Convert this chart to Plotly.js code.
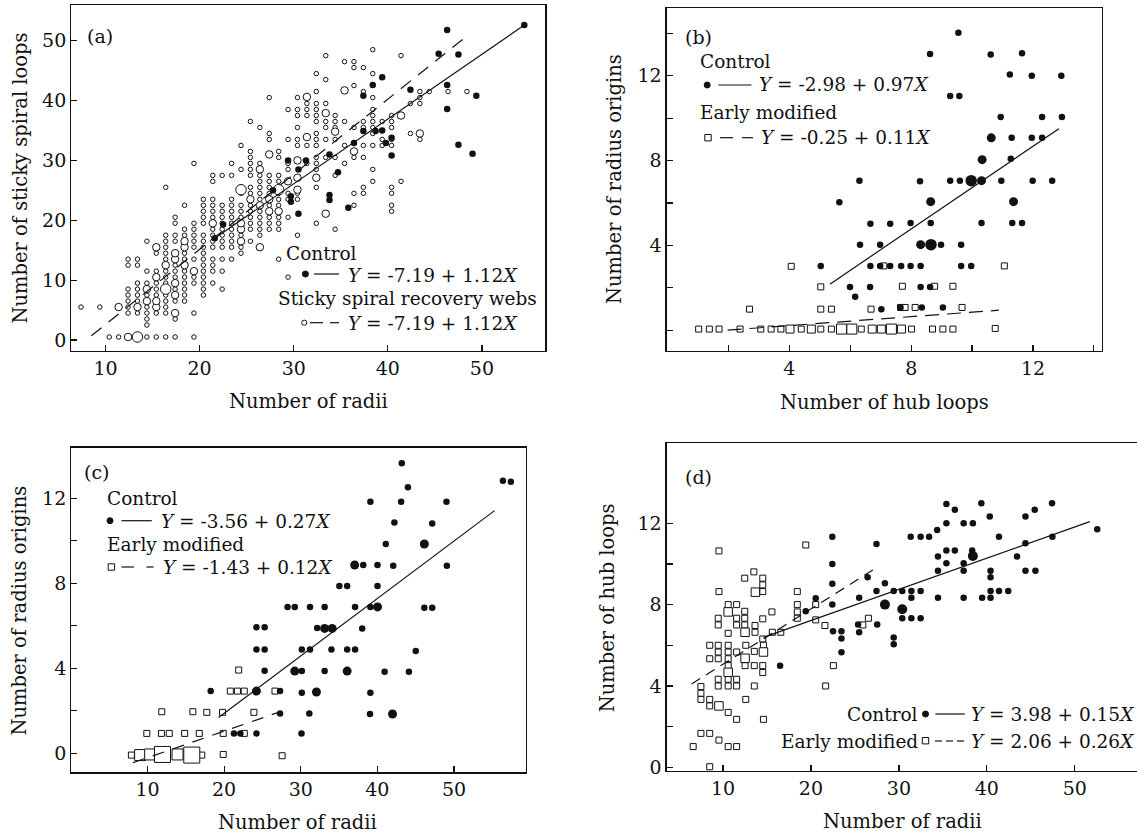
<!DOCTYPE html>
<html>
<head>
<meta charset="utf-8">
<script src="https://cdn.plot.ly/plotly-3.0.1.min.js"></script>
<style>
html,body{margin:0;padding:0;background:#fff;}
#chart{width:1137px;height:834px;}
</style>
</head>
<body>
<div id="chart"></div>
<script>
// ---------------- Panel (a): sticky spiral loops vs radii ----------------
// Sticky spiral recovery webs (open circles), grouped by column of radii
const aRecColX = [7.4, 9.4, 10.4, 11.4, 12.4, 13.4, 14.4, 15.4, 16.4, 17.4, 18.4, 19.4, 20.4, 21.4, 22.4, 23.4, 24.4, 25.4, 26.4, 27.4, 28.4, 29.4, 30.4, 31.4, 32.4, 33.4, 34.4, 35.4, 36.4, 37.4, 38.4, 39.4, 40.4, 41.4, 42.4, 43.4, 44.4, 46.4, 48.4];
const aRecColY = [
  [5.5],
  [5.5],
  [0.5],
  [0.5],
  [4.5,5.5,6.5,7.5,8.5,12.5,13.5],
  [4.5,6.5,7.5,8.5,9.5,12.5,13.5],
  [0.5,2.5,3.5,4.5,5.5,7.5,9.5,11.5,16.5],
  [0.5,4.5,7.5,8.5,9.5,11.5,14.5],
  [0.5,4.5,5.5,6.5,7.5,9.5,10.5,11.5,13.5,14.5,15.5,16.5,17.5,25.5],
  [0.5,3.5,6.5,8.5,10.5,11.5,12.5,16.5,17.5,19.5,20.5],
  [6.5,7.5,8.5,9.5,10.5,11.5,13.5,14.5,17.5,18.5,22.5],
  [0.5,4.5,9.5,10.5,13.5,15.5,16.5,17.5,18.5,19.5,29.5],
  [7.5,8.5,9.5,10.5,11.5,12.5,13.5,14.5,15.5,16.5,17.5,19.5,20.5,21.5,22.5,23.5],
  [9.5,11.5,12.5,13.5,15.5,16.5,17.5,18.5,20.5,21.5,22.5,23.5,26.5,27.5],
  [8.5,11.5,13.5,15.5,16.5,17.5,18.5,19.5,20.5,21.5,22.5,27.5],
  [13.5,15.5,16.5,17.5,18.5,19.5,20.5,21.5,22.5,23.5,27.5,29.5],
  [14.5,15.5,17.5,20.5,21.5,22.5,24.5,28.5,32.5],
  [16.5,18.5,19.5,20.5,21.5,22.5,24.5,25.5,27.5,28.5,29.5,30.5,31.5,36.5],
  [17.5,18.5,19.5,20.5,21.5,23.5,24.5,25.5,26.5,27.5,29.5,35.5],
  [18.5,19.5,20.5,22.5,24.5,25.5,26.5,27.5,33.5,34.5,40.5],
  [13.5,18.5,19.5,20.5,22.5,23.5,24.5,26.5,27.5,30.5,31.5],
  [10.5,20.5,23.5,24.5,28.5,29.5,33.5,38.5],
  [17.5,23.5,24.5,32.5,33.5,35.5,37.5,38.5,40.5],
  [29.5,32.5,37.5,38.5,39.5],
  [19.5,25.5,28.5,29.5,30.5,32.5,33.5,34.5,36.5,37.5,38.5,39.5,41.5,44.5],
  [30.5,33.5,35.5,36.5,39.5,43.5,47.5],
  [18.5,27.5,30.5,33.5,35.5,36.5,37.5],
  [29.5,32.5,36.5,46.5],
  [22.5,24.5,30.5,35.5,42.5,45.5,46.5],
  [24.5,25.5,30.5,32.5,35.5,36.5,41.5,45.5],
  [26.5,28.5,32.5,34.5,35.5,36.5,37.5,38.5,40.5,44.5,48.5],
  [32.5,33.5,36.5],
  [21.5,22.5,24.5,25.5,32.5,33.5,35.5,36.5,37.5],
  [26.5,47.5],
  [34.5,39.5],
  [33.5,39.5,40.5,41.5],
  [41.5],
  [41.5],
  [41.5]
];
// medium-sized (several webs) and large-sized open circles
const aRecMX = [11.4, 12.4, 13.4, 14.4, 14.4, 15.4, 15.4, 15.4, 15.4, 16.4, 17.4, 17.4, 17.4, 17.4, 17.4, 18.4, 18.4, 18.4, 19.4, 21.4, 24.4, 24.4, 24.4, 25.4, 26.4, 26.4, 26.4, 27.4, 27.4, 27.4, 28.4, 29.4, 30.4, 30.4, 30.4, 31.4, 31.4, 32.4, 33.4, 33.4, 34.4, 35.4, 36.4, 41.4, 43.4];
const aRecMY = [5.5, 0.5, 5.5, 6.5, 8.5, 5.5, 6.5, 10.5, 15.5, 12.5, 4.5, 7.5, 9.5, 13.5, 14.5, 12.5, 15.5, 16.5, 11.5, 19.5, 16.5, 18.5, 19.5, 23.5, 15.5, 22.5, 28.5, 21.5, 23.5, 31.0, 21.5, 26.5, 30.0, 27.1, 25.1, 40.6, 33.9, 27.1, 37.9, 21.1, 34.8, 41.7, 31.5, 37.5, 34.5];
const aRecLX = [13.4, 16.4, 24.4, 28.4];
const aRecLY = [0.5, 8.5, 25.1, 25.1];
// Control webs (filled)
const aCtlX = [54.5, 46.3, 45.4, 47.5, 46.3, 46.3, 47.5, 49.0, 49.4, 42.4, 39.4, 38.4, 37.4, 37.4, 38.7, 39.4, 39.8, 40.4, 40.4, 36.4, 33.8, 34.7, 33.8, 33.8, 35.8, 31.3, 29.4, 30.5, 29.7, 29.7, 30.5, 27.8, 22.5, 21.6];
const aCtlY = [52.6, 51.8, 47.8, 47.7, 42.6, 38.6, 32.6, 31.1, 40.8, 41.8, 43.9, 42.6, 40.8, 34.9, 34.9, 35.0, 32.9, 33.8, 30.8, 32.9, 31.0, 28.0, 24.2, 23.4, 22.1, 30.0, 30.0, 28.5, 24.0, 23.1, 21.1, 25.0, 19.3, 17.0];
// fitted lines (end points)
const aCtlLineX = [21.6, 54.5], aCtlLineY = [17.0, 52.6];
const aRecLineX = [8.5, 48.1], aRecLineY = [0.7, 50.4];

// ---------------- Panel (b): radius origins vs hub loops ----------------
const bCtlX = [9.55, 8.62, 10.61, 11.64, 11.24, 11.96, 12.93, 9.28, 9.58, 10.94, 12.3, 12.95, 11.3, 11.96, 12.3, 11.27, 6.3, 8.29, 9.28, 9.6, 10.96, 11.99, 12.63, 5.64, 6.66, 7.31, 7.98, 8.64, 10.31, 11.32, 11.64, 6.32, 6.98, 8.98, 9.64, 5.03, 6.66, 6.98, 7.31, 7.67, 7.98, 8.31, 9.64, 9.97, 5.99, 6.65, 8.31, 8.62, 6.16, 7.02, 7.65, 8.35, 9.04];
const bCtlY = [14.03, 13.03, 13.0, 13.06, 12.06, 12.0, 12.0, 11.04, 11.04, 10.05, 10.05, 10.05, 9.07, 9.07, 9.07, 8.08, 7.05, 7.02, 7.05, 7.05, 7.05, 7.05, 7.05, 6.03, 5.02, 5.02, 5.05, 5.05, 5.05, 5.05, 5.05, 4.03, 4.03, 4.03, 4.03, 3.03, 3.03, 3.03, 3.03, 3.03, 3.03, 3.03, 3.03, 3.03, 2.04, 2.04, 2.04, 2.04, 1.57, 0.99, 1.07, 1.07, 1.07];
const bCtlMX = [10.63, 10.33, 10.31, 8.64, 11.36, 8.31], bCtlMY = [9.07, 8.04, 7.05, 6.06, 6.06, 4.03];
const bCtlLX = [9.97, 8.65], bCtlLY = [7.05, 4.03];
const bModX = [4.06, 5.03, 2.69, 5.03, 5.38, 6.68, 7.1, 7.71, 8.77, 9.37, 11.06, 7.65, 7.8, 8.13, 9.67, 1.02, 1.37, 1.69, 2.38, 3.06, 3.4, 3.72, 4.39, 5.03, 5.38, 6.36, 8.01, 8.7, 9.04, 9.37, 10.76];
const bModY = [3.01, 2.04, 0.99, 0.99, 0.99, 0.99, 3.03, 2.07, 2.07, 2.07, 3.03, 1.07, 1.07, 1.07, 1.07, 0.05, 0.05, 0.05, 0.05, 0.05, 0.05, 0.05, 0.05, 0.05, 0.05, 0.05, 0.05, 0.05, 0.05, 0.05, 0.08];
const bModMX = [4.02, 4.72, 6.72, 7.02, 7.68], bModMY = [0.05, 0.05, 0.05, 0.05, 0.05];
const bModLX = [5.71, 6.05, 7.35], bModLY = [0.05, 0.05, 0.05];
const bCtlLineX = [5.33, 12.85], bCtlLineY = [2.17, 9.5];
const bModLineX = [1.97, 10.88], bModLineY = [0.0, 0.94];

// ---------------- Panel (c): radius origins vs radii ----------------
const cCtlX = [43.19, 56.39, 57.42, 43.99, 39.09, 43.1, 49.02, 42.22, 47.16, 41.1, 38.16, 40.02, 42.07, 49.07, 35.04, 36.06, 40.02, 28.28, 29.22, 31.21, 33.12, 37.09, 39.09, 46.13, 47.16, 24.22, 25.29, 32.15, 38.02, 24.22, 25.29, 30.14, 31.21, 34.01, 36.06, 37.09, 45.01, 25.29, 30.14, 33.12, 40.95, 44.12, 18.25, 27.3, 30.14, 39.09, 27.3, 31.12, 39.04, 21.28, 22.12, 24.22, 30.1];
const cCtlY = [13.65, 12.82, 12.78, 12.52, 11.84, 11.84, 11.84, 10.86, 10.82, 9.85, 8.86, 8.86, 8.83, 8.83, 7.87, 7.87, 7.87, 6.89, 6.89, 6.89, 6.89, 6.89, 6.89, 6.85, 6.85, 5.93, 5.93, 5.9, 5.87, 4.89, 4.89, 4.89, 4.89, 4.89, 4.89, 4.89, 4.82, 3.89, 3.87, 3.87, 3.84, 3.84, 2.93, 2.93, 2.85, 2.85, 1.88, 1.88, 1.85, 0.94, 0.94, 0.94, 0.94];
const cCtlLX = [46.13, 37.04, 40.02, 33.12, 34.1, 29.22, 36.06, 24.22, 32.05, 41.98];
const cCtlLY = [9.85, 8.86, 6.89, 5.88, 5.88, 3.87, 3.87, 2.93, 2.89, 1.85];
const cModX = [21.9, 20.81, 21.74, 22.63, 26.64, 11.86, 15.92, 17.74, 19.79, 23.89, 9.91, 11.82, 12.84, 14.85, 16.76, 19.88, 22.63, 7.9, 17.09, 19.88, 27.57];
const cModY = [3.92, 2.93, 2.93, 2.93, 2.93, 1.96, 1.96, 1.93, 1.93, 1.93, 0.94, 0.94, 0.94, 0.94, 0.94, 0.94, 0.94, -0.08, -0.08, -0.05, -0.11];
const cModMX = [9.04, 10.35, 13.92], cModMY = [-0.08, -0.05, -0.05];
const cModLX = [11.96, 15.78], cModLY = [-0.05, -0.08];
const cCtlLineX = [19.28, 55.3], cCtlLineY = [1.69, 11.42];
const cModLineX = [8.09, 27.1], cModLineY = [-0.44, 1.93];

// ---------------- Panel (d): hub loops vs radii ----------------
const dCtlX = [35.4, 36.36, 39.37, 47.41, 40.33, 44.39, 45.44, 35.4, 37.36, 38.41, 52.55, 22.43, 31.34, 32.47, 33.43, 41.38, 47.45, 34.35, 27.45, 44.39, 34.44, 38.33, 43.43, 35.4, 36.36, 22.43, 35.4, 37.36, 34.44, 37.36, 40.42, 44.39, 45.52, 26.44, 40.42, 22.43, 28.41, 27.45, 29.41, 30.38, 31.42, 32.47, 40.42, 41.38, 42.43, 20.54, 25.48, 31.42, 34.44, 37.36, 39.46, 40.42, 22.43, 19.41, 30.38, 31.42, 32.47, 25.36, 27.53, 22.51, 23.47, 25.48, 23.47, 29.41, 29.41, 23.47, 16.49];
const dCtlY = [12.95, 12.66, 12.98, 12.98, 12.33, 12.33, 12.66, 12.0, 12.0, 12.0, 11.7, 11.34, 11.34, 11.34, 11.34, 11.34, 11.34, 11.67, 10.98, 11.02, 10.36, 10.66, 10.36, 10.66, 10.66, 10.0, 10.03, 10.03, 9.67, 9.67, 9.67, 9.67, 9.67, 9.34, 9.34, 9.02, 9.05, 8.67, 8.67, 8.67, 8.67, 8.67, 8.67, 8.67, 8.67, 8.31, 8.34, 8.34, 8.34, 8.34, 8.34, 8.34, 8.0, 7.67, 7.33, 7.33, 7.33, 7.02, 7.02, 6.69, 6.69, 6.64, 6.33, 6.38, 6.05, 5.66, 5.0];
const dCtlLX = [28.41, 30.38, 38.41], dCtlLY = [8.0, 7.77, 10.39];
const dModX = [9.54, 19.41, 13.51, 12.47, 14.52, 14.52, 9.54, 14.52, 18.45, 10.59, 11.55, 18.45, 20.54, 12.47, 15.56, 18.45, 9.46, 11.55, 12.47, 14.52, 18.45, 20.54, 26.53, 9.46, 11.55, 12.47, 13.64, 21.59, 25.9, 10.59, 13.64, 15.61, 16.57, 14.52, 8.49, 9.46, 10.59, 12.59, 14.6, 9.46, 10.59, 11.55, 13.56, 8.49, 9.46, 10.59, 10.59, 12.51, 13.56, 14.52, 22.55, 14.52, 9.46, 10.59, 11.55, 9.46, 10.59, 11.55, 13.56, 21.67, 7.49, 7.49, 7.49, 8.49, 12.59, 8.49, 10.59, 11.55, 14.6, 7.49, 8.49, 9.54, 6.61, 10.59, 11.55, 8.49];
const dModY = [10.64, 10.93, 9.61, 9.3, 9.3, 8.97, 8.64, 8.64, 8.64, 8.0, 8.0, 8.0, 8.0, 7.67, 7.64, 7.64, 7.33, 7.33, 7.33, 7.3, 7.33, 7.25, 7.33, 7.0, 7.0, 7.0, 6.97, 6.97, 7.0, 6.59, 6.64, 6.64, 6.64, 6.31, 6.0, 6.0, 6.0, 6.0, 6.0, 5.67, 5.67, 5.67, 5.7, 5.34, 5.34, 5.34, 5.0, 5.0, 5.0, 5.0, 5.0, 4.66, 4.33, 4.33, 4.33, 4.0, 4.0, 4.0, 4.0, 4.0, 3.97, 3.64, 3.34, 3.34, 3.34, 3.02, 2.7, 2.36, 2.36, 1.67, 1.67, 1.34, 1.02, 1.02, 1.02, 0.03];
const dModMX = [13.68, 10.59, 12.51, 14.6, 12.51, 10.59, 9.54], dModMY = [8.61, 7.64, 6.64, 5.67, 5.36, 4.67, 3.02];
const dCtlLineX = [14.6, 51.7], dCtlLineY = [6.39, 12.08];
const dModLineX = [6.44, 27.66], dModLineY = [4.1, 9.87];

// tick labels
const tick10 = [10, 20, 30, 40, 50];
const tickA_Y = [0, 10, 20, 30, 40, 50];
const tickEvenY = [0, 2, 4, 6, 8, 10, 12, 14];
const tickEvenYText = ['', '', '4', '', '8', '', '12', ''];
const tickBX = [2, 4, 6, 8, 10, 12, 14];
const tickBXText = ['', '4', '', '8', '', '12', ''];
const tickCDY = [0, 2, 4, 6, 8, 10, 12];
const tickCDYText = ['0', '', '4', '', '8', '', '12'];

// flatten the column-grouped recovery data
const aRecX = [], aRecY = [];
aRecColX.forEach((x, i) => aRecColY[i].forEach(y => { aRecX.push(x); aRecY.push(y); }));

// ---------------- layout helpers ----------------
const W = 1137, H = 834;
const FONT = 'DejaVu Serif';
const INK = '#111';
const LEG = 18.5;
const px = v => v / W;
const py = v => 1 - v / H;

function axis(dom, range, tickvals, ticktext, anchor, mirror) {
  return {
    domain: dom, range: range, anchor: anchor,
    tickmode: 'array', tickvals: tickvals, ticktext: ticktext,
    ticks: 'inside', ticklen: 6, tickwidth: 1.2, tickcolor: INK,
    showline: true, linecolor: INK, linewidth: 1.3, mirror: mirror,
    showgrid: false, zeroline: false, fixedrange: true,
    tickfont: {family: FONT, size: 19, color: INK}
  };
}

const openC = s => ({symbol: 'circle', size: s, color: '#fff', line: {color: INK, width: 1}});
const fillC = s => ({symbol: 'circle', size: s, color: INK, line: {color: INK, width: 0}});
const openS = s => ({symbol: 'square', size: s, color: '#fff', line: {color: INK, width: 1}});

function pts(x, y, marker, xa, ya) {
  return {type: 'scatter', mode: 'markers', x: x, y: y, marker: marker, xaxis: xa, yaxis: ya, hoverinfo: 'skip', showlegend: false, cliponaxis: false};
}
function ln(x, y, dash, xa, ya) {
  return {type: 'scatter', mode: 'lines', x: x, y: y, line: {color: INK, width: 1.2, dash: dash}, xaxis: xa, yaxis: ya, hoverinfo: 'skip', showlegend: false};
}

const data = [
  // (a)
  pts(aRecX, aRecY, openC(4.5), 'x', 'y'),
  pts(aRecMX, aRecMY, openC(7.5), 'x', 'y'),
  pts(aRecLX, aRecLY, openC(10.5), 'x', 'y'),
  pts(aCtlX, aCtlY, fillC(6.5), 'x', 'y'),
  ln(aCtlLineX, aCtlLineY, 'solid', 'x', 'y'),
  ln(aRecLineX, aRecLineY, '13px,9px', 'x', 'y'),
  // (b)
  pts(bModX, bModY, openS(6), 'x2', 'y2'),
  pts(bModMX, bModMY, openS(8), 'x2', 'y2'),
  pts(bModLX, bModLY, openS(10), 'x2', 'y2'),
  pts(bCtlX, bCtlY, fillC(6.5), 'x2', 'y2'),
  pts(bCtlMX, bCtlMY, fillC(9), 'x2', 'y2'),
  pts(bCtlLX, bCtlLY, fillC(11.5), 'x2', 'y2'),
  ln(bCtlLineX, bCtlLineY, 'solid', 'x2', 'y2'),
  ln(bModLineX, bModLineY, '14px,8px', 'x2', 'y2'),
  // (c)
  pts(cModX, cModY, openS(6), 'x3', 'y3'),
  pts(cModMX, cModMY, openS(11), 'x3', 'y3'),
  pts(cModLX, cModLY, openS(16), 'x3', 'y3'),
  pts(cCtlX, cCtlY, fillC(6.5), 'x3', 'y3'),
  pts(cCtlLX, cCtlLY, fillC(9), 'x3', 'y3'),
  ln(cCtlLineX, cCtlLineY, 'solid', 'x3', 'y3'),
  ln(cModLineX, cModLineY, '12px,9px', 'x3', 'y3'),
  // (d)
  pts(dModX, dModY, openS(6), 'x4', 'y4'),
  pts(dModMX, dModMY, openS(8.5), 'x4', 'y4'),
  pts(dCtlX, dCtlY, fillC(6.5), 'x4', 'y4'),
  pts(dCtlLX, dCtlLY, fillC(10), 'x4', 'y4'),
  ln(dCtlLineX, dCtlLineY, 'solid', 'x4', 'y4'),
  ln(dModLineX, dModLineY, '10px,7px', 'x4', 'y4')
];

// annotations
function txt(text, x, y, xanchor, opts) {
  return Object.assign({text: text, x: px(x), y: py(y), xref: 'paper', yref: 'paper', xanchor: xanchor, yanchor: 'middle', showarrow: false, borderpad: 0, font: {family: FONT, size: LEG, color: INK}}, opts || {});
}
const TF = {family: FONT, size: 19.5, color: INK};
const PF = {family: FONT, size: 19, color: INK};
const eq = (a, b) => '<i>Y</i> = ' + a + ' + ' + b + '<i>X</i>';
const annotations = [
  // axis titles
  txt('Number of sticky spiral loops', 19.6, 178, 'center', {textangle: -90, font: TF}),
  txt('Number of radii', 308, 401, 'center', {font: TF}),
  txt('Number of radius origins', 614, 179, 'center', {textangle: -90, font: TF}),
  txt('Number of hub loops', 884, 402, 'center', {font: TF}),
  txt('Number of radius origins', 18.6, 611, 'center', {textangle: -90, font: TF}),
  txt('Number of radii', 297, 822, 'center', {font: TF}),
  txt('Number of hub loops', 607.8, 607.5, 'center', {textangle: -90, font: TF}),
  txt('Number of radii', 902, 821, 'center', {font: TF}),
  // panel letters
  txt('(a)', 100, 35.7, 'center', {font: PF}),
  txt('(b)', 698, 36.7, 'center', {font: PF}),
  txt('(c)', 96.4, 471.7, 'center', {font: PF}),
  txt('(d)', 698.4, 476.7, 'center', {font: PF}),
  // legend (a)
  txt('Control', 285, 253, 'left'),
  txt(eq('-7.19', '1.12'), 347, 275.5, 'left'),
  txt('Sticky spiral recovery webs', 277, 298, 'left'),
  txt(eq('-7.19', '1.12'), 347, 323, 'left'),
  // legend (b)
  txt('Control', 699, 62, 'left'),
  txt(eq('-2.98', '0.97'), 758, 84.5, 'left'),
  txt('Early modified', 699, 112.5, 'left'),
  txt(eq('-0.25', '0.11'), 760, 137.5, 'left'),
  // legend (c)
  txt('Control', 105.5, 498.5, 'left'),
  txt(eq('-3.56', '0.27'), 160, 521, 'left'),
  txt('Early modified', 105.5, 544, 'left'),
  txt(eq('-1.43', '0.12'), 162, 567, 'left'),
  // legend (d)
  txt('Control', 919, 714, 'right'),
  txt(eq('3.98', '0.15'), 969.5, 714, 'left'),
  txt('Early modified', 919, 741.8, 'right'),
  txt(eq('2.06', '0.26'), 969.5, 741.8, 'left')
];

// legend symbol shapes (paper coordinates from pixel positions)
function segP(x0, x1, y, dash) {
  return {type: 'line', xref: 'paper', yref: 'paper', x0: px(x0), x1: px(x1), y0: py(y), y1: py(y), line: {color: INK, width: 1.2, dash: dash || 'solid'}};
}
function circP(cx, cy, r, fill) {
  return {type: 'circle', xref: 'paper', yref: 'paper', x0: px(cx - r), x1: px(cx + r), y0: py(cy + r), y1: py(cy - r), fillcolor: fill, line: {color: INK, width: 1}};
}
function sqP(cx, cy, r) {
  return {type: 'rect', xref: 'paper', yref: 'paper', x0: px(cx - r), x1: px(cx + r), y0: py(cy + r), y1: py(cy - r), fillcolor: '#fff', line: {color: INK, width: 1}};
}
const shapes = [
  // (a)
  circP(305.4, 274, 3, INK), segP(314, 339, 274),
  circP(304.3, 322.7, 2.6, '#fff'), segP(310, 323, 322.7), segP(330, 339, 322.7),
  // (b)
  circP(707.2, 85, 3, INK), segP(718.3, 751.4, 85),
  sqP(708, 137.7, 3.2), segP(720, 733, 137.7), segP(742, 753, 137.7),
  // (c)
  circP(110, 520.7, 3, INK), segP(121.4, 151.8, 520.7),
  sqP(111.4, 567, 3.2), segP(121.4, 134, 567), segP(146.4, 153.6, 567),
  // (d)
  circP(925.5, 714, 3, INK), segP(935.4, 964.9, 714),
  sqP(925.5, 740.7, 3.2), segP(935, 942, 741), segP(946, 953, 741), segP(957, 964, 741)
];

const layout = {
  width: W, height: H, autosize: false,
  margin: {l: 0, r: 0, t: 0, b: 0, pad: 0},
  paper_bgcolor: '#fff', plot_bgcolor: 'rgba(0,0,0,0)',
  showlegend: false,
  font: {family: FONT, color: INK},
  xaxis:  axis([px(71.4), px(545.4)], [6.38, 56.74], tick10, tick10.map(String), 'y', true),
  yaxis:  axis([py(351), py(5)], [-1.84, 55.96], tickA_Y, tickA_Y.map(String), 'x', true),
  xaxis2: axis([px(666.7), px(1101.8)], [-0.03, 14.26], tickBX, tickBXText, 'y2', true),
  yaxis2: axis([py(350.7), py(8.3)], [-0.97, 15.18], tickEvenY, tickEvenYText, 'x2', true),
  xaxis3: axis([px(71.4), px(526)], [0.07, 59.4], tick10, tick10.map(String), 'y3', true),
  yaxis3: axis([py(772.3), py(447.7)], [-0.89, 14.38], tickCDY, tickCDYText, 'x3', true),
  xaxis4: axis([px(666.7), 1], [3.6, 57.07], tick10, tick10.map(String), 'y4', true),
  yaxis4: axis([py(771), py(443.3)], [-0.18, 15.93], tickCDY, tickCDYText, 'x4', false),
  annotations: annotations,
  shapes: shapes
};

Plotly.newPlot('chart', data, layout, {staticPlot: true, displayModeBar: false});
</script>
</body>
</html>
